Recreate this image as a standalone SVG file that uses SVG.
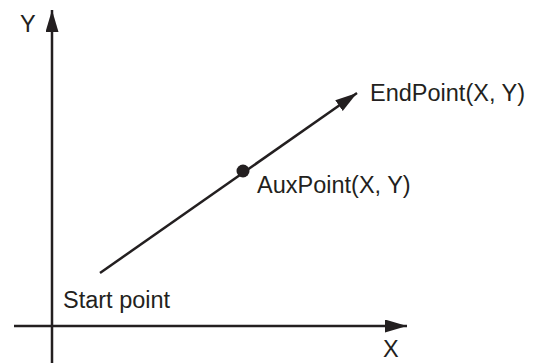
<svg xmlns="http://www.w3.org/2000/svg" width="542" height="363" viewBox="0 0 542 363">
<style>
.ln{stroke:#231f20;stroke-width:2.5;fill:none}
.t{font-family:"Liberation Sans",Arial,sans-serif;font-size:23.5px;fill:#231f20}
</style>
<defs>
<marker id="ah" markerUnits="userSpaceOnUse" markerWidth="24" markerHeight="14" refX="22" refY="6.5" orient="auto">
<path d="M0,0 L22,6.5 L0,13 z" fill="#231f20"/>
</marker>
</defs>
<rect width="542" height="363" fill="#fff"/>
<g id="connectors">
<line id="y-axis" class="ln" x1="52" y1="363" x2="52" y2="10" marker-end="url(#ah)"/>
<line id="x-axis" class="ln" x1="14" y1="326" x2="407" y2="326" marker-end="url(#ah)"/>
<line id="path" class="ln" x1="100" y1="273" x2="357" y2="93" marker-end="url(#ah)"/>
</g>
<g id="aux-point">
<circle cx="243" cy="171" r="6.5" fill="#231f20"/>
<text class="t" x="257" y="193">AuxPoint(X, Y)</text>
</g>
<g id="end-point"><text class="t" x="370" y="101">EndPoint(X, Y)</text></g>
<g id="start-point"><text class="t" x="63" y="308">Start point</text></g>
<g id="y-label"><text class="t" x="20" y="32">Y</text></g>
<g id="x-label"><text class="t" x="383" y="357">X</text></g>
</svg>
